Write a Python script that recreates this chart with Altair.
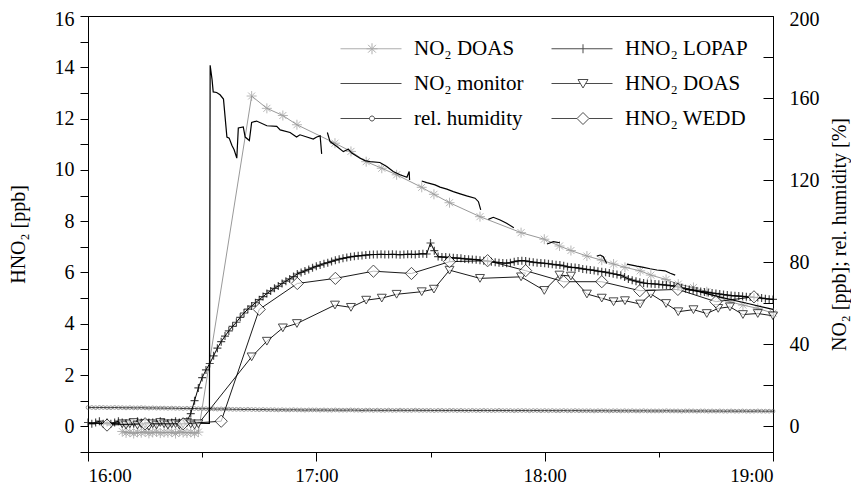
import altair as alt
import pandas as pd

FONT = "Liberation Serif, Times New Roman, Times, Nimbus Roman, DejaVu Serif, serif"

# ---------------- data (time = minutes after 16:00) ----------------
# NO2 DOAS [ppb] (right axis) and HNO2 DOAS [ppb] (left axis), same time stamps
doas_t = [9, 10, 11, 12, 13, 14, 15, 16, 17, 18, 19, 20, 21, 22, 23, 24, 25, 26, 27, 28, 29,
          43.0, 47.0, 51.2, 54.9, 64.9, 69.1, 73.1, 77.2, 81.1, 87.7, 90.9, 95.0, 103.0,
          113.8, 119.9, 123.9, 126.9, 131.1, 135.0, 138.1, 141.1, 145.1, 147.9, 151.9,
          155.1, 159.1, 162.6, 165.6, 168.7, 172.1, 176.0, 180.0]
no2_doas_v = [-2.5, -3.2, -2.8, -3.5, -2.9, -3.1, -2.6, -3.4, -3.0, -2.7, -3.3, -2.9, -3.1,
              -2.8, -3.5, -2.6, -3.0, -3.2, -2.9, -3.4, -2.8,
              161, 155, 151.5, 147, 138, 134, 129, 125.8, 122.6, 116.5, 113.1, 109, 102.2,
              94.4, 91.2, 87.9, 85.7, 83, 81, 79.1, 77.5, 75.8, 73.7, 71.6, 69.3, 67.7,
              65.6, 63.1, 60.7, 59.1, 57.5, 55.2]
hno2_doas_v = [0.1, 0.05, 0.1, 0.15, 0.05, 0.1, 0.1, 0.0, 0.1, 0.05, 0.15, 0.1, 0.05, 0.1,
               0.1, 0.05, 0.1, 0.15, 0.1, 0.05, 0.1,
               2.71, 3.32, 3.84, 4.01, 4.73, 4.64, 4.92, 5.0, 5.15, 5.25, 5.35, 6.09, 5.77,
               5.83, 5.3, 5.90, 5.86, 5.16, 5.0, 4.86, 4.90, 4.77, 5.16, 4.79, 4.47, 4.55,
               4.40, 4.60, 4.66, 4.36, 4.40, 4.31]

# NO2 monitor [ppb] (right axis), broken into segments
mon_t = [0, 10, 20, 31.9, 32.1, 32.6, 32.9, 33.8, 34.7, 35.6, 36.5, 37.1, 37.8, 38.4, 39.1,
         39.5, 40.8, 41.3, 42.4, 43.0, 44.3, 47.0, 49.6, 50.5, 53.1, 54.8, 55.7, 57.5, 59.2,
         60.1, 61.0, 61.4,
         62.9, 63.6, 65.4, 67.1, 68.4, 69.3, 71.5, 72.8, 74.1, 76.7, 78.5, 80.2, 82.0, 83.8,
         84.4, 84.5,
         87.7, 89.0, 91.2, 92.5, 94.3, 96.0, 97.8, 99.5, 101.7, 102.6, 103.2,
         105.2, 106.5, 108.3, 110.0, 111.9,
         120.6, 122.3, 124.0,
         133.7, 134.6, 135.4, 136.3,
         141.6, 144.2, 146.0, 147.7, 149.5, 151.6, 153.0, 154.3,
         156.9, 159.1, 166.1, 173.1, 180.0]
mon_v = [1.5, 1.2, 1.8, 1.5, 176, 169, 163, 162.7, 161.6, 159.5, 141, 140.5, 137, 134.8, 130.7,
         145.4, 145.9, 141, 139.3, 148.1, 148.8, 146.5, 146.2, 144.5, 143.2, 141, 142.1, 141,
         140, 141, 141.6, 132.8,
         143.2, 138.8, 136.4, 133.9, 135.1, 133.2, 130.7, 129.5, 129, 128.6, 126.6, 124.2,
         122.6, 121.4, 124.2, 120.1,
         119.6, 118.8, 117.7, 116.6, 115.6, 114.4, 113.3, 112.3, 111.2, 109.5, 105.5,
         100.9, 101.9, 100.6, 99, 96.8,
         88.9, 90, 89.5,
         83, 83.5, 82.7, 79.4,
         79.1, 78.1, 77.5, 76.8, 76.2, 75.8, 74.6, 73.7,
         66.7, 66.4, 63, 60, 57]
mon_seg = [1] * 32 + [2] * 16 + [3] * 11 + [4] * 5 + [5] * 3 + [6] * 4 + [7] * 8 + [8] * 5

# relative humidity [%] (right axis), one value per minute 16:00..19:00
rh_v = [9.2, 9.2, 9.1, 9.2, 9.2, 9.1, 9.1, 9.2, 9.1, 9.1,
        9.0, 9.1, 9.0, 9.0, 9.1, 9.0, 8.9, 9.0, 8.9, 8.9,
        8.9, 8.8, 8.9, 8.8, 8.8, 8.7, 8.8, 8.7, 8.7, 8.6,
        8.6, 8.6, 8.5, 8.5, 8.4, 8.5, 8.4, 8.4, 8.3, 8.3,
        8.3, 8.2, 8.3, 8.2, 8.2, 8.1, 8.2, 8.1, 8.1, 8.1,
        8.0, 8.1, 8.0, 8.0, 8.1, 8.0, 8.0, 7.9, 8.0, 8.0,
        8.0, 7.9, 8.0, 7.9, 7.9, 8.0, 7.9, 7.9, 7.9, 8.0,
        7.9, 7.9, 7.8, 7.9, 7.9, 7.8, 7.9, 7.8, 7.8, 7.9,
        7.8, 7.8, 7.9, 7.8, 7.8, 7.8, 7.9, 7.8, 7.8, 7.8,
        7.8, 7.7, 7.8, 7.8, 7.7, 7.8, 7.8, 7.7, 7.8, 7.7,
        7.7, 7.8, 7.7, 7.7, 7.8, 7.7, 7.7, 7.7, 7.8, 7.7,
        7.7, 7.7, 7.6, 7.7, 7.7, 7.7, 7.6, 7.7, 7.7, 7.6,
        7.7, 7.6, 7.7, 7.6, 7.6, 7.7, 7.6, 7.6, 7.7, 7.6,
        7.6, 7.6, 7.6, 7.5, 7.6, 7.6, 7.6, 7.5, 7.6, 7.6,
        7.5, 7.6, 7.5, 7.6, 7.5, 7.5, 7.6, 7.5, 7.5, 7.5,
        7.5, 7.5, 7.6, 7.5, 7.5, 7.5, 7.4, 7.5, 7.5, 7.5,
        7.4, 7.5, 7.5, 7.4, 7.5, 7.4, 7.5, 7.4, 7.4, 7.5,
        7.4, 7.4, 7.5, 7.4, 7.4, 7.4, 7.5, 7.4, 7.4, 7.4, 7.4]

# HNO2 LOPAP [ppb] (left axis), one value per minute 16:00..19:00
lopap_v = [0.15, 0.1, 0.15, 0.2, 0.1, 0.15, 0.1, 0.15, 0.2, 0.15,
           0.1, 0.15, 0.1, 0.2, 0.15, 0.1, 0.15, 0.15, 0.1, 0.2,
           0.15, 0.1, 0.15, 0.2, 0.15, 0.1, 0.2, 0.5, 1.0, 1.5,
           1.9, 2.2, 2.45, 2.75, 3.05, 3.3, 3.52, 3.72, 3.9, 4.06,
           4.25, 4.42, 4.57, 4.69, 4.82, 4.94, 5.06, 5.18, 5.28, 5.38,
           5.47, 5.57, 5.66, 5.75, 5.84, 5.94, 6.0, 6.06, 6.12, 6.18,
           6.24, 6.29, 6.34, 6.38, 6.43, 6.48, 6.52, 6.55, 6.58, 6.61,
           6.63, 6.65, 6.66, 6.68, 6.69, 6.70, 6.70, 6.71, 6.70, 6.70,
           6.71, 6.70, 6.69, 6.70, 6.71, 6.71, 6.70, 6.72, 6.73, 6.72,
           7.15, 6.85, 6.62, 6.6, 6.6, 6.58, 6.57, 6.56, 6.55, 6.53,
           6.52, 6.51, 6.50, 6.48, 6.46, 6.44, 6.42, 6.40, 6.38, 6.37,
           6.36, 6.38, 6.42, 6.45, 6.46, 6.45, 6.42, 6.40, 6.38, 6.37,
           6.36, 6.34, 6.32, 6.30, 6.29, 6.26, 6.22, 6.20, 6.19, 6.17,
           6.14, 6.12, 6.10, 6.08, 6.05, 6.03, 6.01, 5.98, 5.95, 5.92,
           5.89, 5.82, 5.75, 5.70, 5.66, 5.62, 5.59, 5.57, 5.56, 5.55,
           5.54, 5.52, 5.51, 5.49, 5.47, 5.44, 5.40, 5.37, 5.34, 5.31,
           5.28, 5.26, 5.24, 5.22, 5.20, 5.18, 5.16, 5.14, 5.12, 5.10,
           5.09, 5.08, 5.07, 5.05, 5.04, 5.03, 5.02, 5.00, 4.98, 4.96, 4.95]
minute_t = list(range(0, 181))

# HNO2 WEDD [ppb] (left axis)
wedd_t = [5, 15, 25, 35, 45, 55, 65, 75, 85, 95, 105, 115, 125, 135, 145, 155, 165, 175]
wedd_v = [0.05, 0.1, 0.1, 0.2, 4.56, 5.57, 5.77, 6.05, 5.96, 6.42, 6.46, 6.07, 5.64, 5.64,
          5.29, 5.34, 4.86, 5.05]

# legend (filled column by column)
series_names = ["NO₂ DOAS", "NO₂ monitor", "rel. humidity", "HNO₂ LOPAP", "HNO₂ DOAS", "HNO₂ WEDD"]
series_colors = ["#8c8c8c", "black", "black", "black", "black", "black"]

# ---------------- marker / legend symbol shapes ----------------
PLUS = "M-1,0H1M0,-1V1"
ASTER = "M0,-1V1M-1,0H1M-0.7,-0.7L0.7,0.7M-0.7,0.7L0.7,-0.7"
legend_paths = [
    "M0,0H12.2M6.3,-1.1V1.1M5.2,0H7.4M5.52,-0.78L7.08,0.78M5.52,0.78L7.08,-0.78",
    "M0,0H12.2",
    "M0,0H5.8M6.8,0H12.2M5.8,0A0.5,0.5 0 1,0 6.8,0A0.5,0.5 0 1,0 5.8,0",
    "M0,0H12.2M6.3,-0.9V0.9",
    "M0,0H5.77M6.83,0H12.2M5.3,-0.8L7.3,-0.8L6.3,0.9Z",
    "M0,0H5.1M7.5,0H12.2M5.1,0L6.3,-1.2L7.5,0L6.3,1.2Z",
]

# ---------------- frames ----------------
df_no2_doas = pd.DataFrame({"t": doas_t, "v": no2_doas_v})
df_hno2_doas = pd.DataFrame({"t": doas_t, "v": hno2_doas_v})
df_mon = pd.DataFrame({"t": mon_t, "v": mon_v, "seg": mon_seg})
df_rh = pd.DataFrame({"t": minute_t, "v": rh_v})
df_lopap = pd.DataFrame({"t": minute_t, "v": lopap_v})
df_wedd = pd.DataFrame({"t": wedd_t, "v": wedd_v})
df_leg = pd.DataFrame({"s": series_names, "t": [None] * 6, "v": [None] * 6})

# ---------------- encodings ----------------
X = alt.X(
    "t:Q",
    scale=alt.Scale(domain=[0, 180], nice=False, zero=False),
    axis=alt.Axis(
        values=[0, 30, 60, 90, 120, 150, 180],
        labelExpr="datum.value % 60 == 0 ? (16 + datum.value / 60) + ':00' : ''",
        tickSize={"condition": {"test": "datum.value % 60 == 0", "value": 9}, "value": 5},
        labelPadding=5,
        labelFontSize=19,
        title=None,
    ),
)
YL = alt.Y(
    "v:Q",
    scale=alt.Scale(domain=[-1, 16], nice=False, zero=False),
    axis=alt.Axis(
        orient="left",
        values=list(range(-1, 17)),
        labelExpr="datum.value >= 0 && datum.value % 2 == 0 ? datum.value : ''",
        labelOffset={"condition": {"test": "datum.value == 16", "value": 3}, "value": 0},
        tickSize=8,
        labelPadding=6,
        title="HNO₂ [ppb]",
        titlePadding=26,
    ),
)
YR = alt.Y(
    "v:Q",
    scale=alt.Scale(domain=[-12.5, 200], nice=False, zero=False),
    axis=alt.Axis(
        orient="right",
        values=list(range(0, 201, 20)),
        labelExpr="datum.value % 40 == 0 ? datum.value : ''",
        labelOffset={"condition": {"test": "datum.value == 200", "value": 3}, "value": 0},
        tickSize=alt.ExprRef(expr="-10"),
        labelPadding=26,
        title="NO₂ [ppb]; rel. humidity [%]",
        titleAngle=270,
        titlePadding=30,
    ),
)

# ---------------- right-axis layers ----------------
rh_line = alt.Chart(df_rh).mark_line(color="black", strokeWidth=0.8).encode(x=X, y=YR)
rh_pts = alt.Chart(df_rh).mark_point(shape="circle", size=14, filled=False, color="#555555",
                                     strokeWidth=0.8).encode(x=X, y=YR)
doas_line = alt.Chart(df_no2_doas).mark_line(color="#999999", strokeWidth=1).encode(x=X, y=YR)
doas_pts = alt.Chart(df_no2_doas).mark_point(shape=ASTER, size=100, filled=False,
                                             color="#999999", strokeWidth=1).encode(x=X, y=YR)
mon_line = alt.Chart(df_mon).mark_line(color="black", strokeWidth=1.2).encode(
    x=X, y=YR, detail="seg:N")
right = alt.layer(rh_line, rh_pts, doas_line, doas_pts, mon_line)

# ---------------- left-axis layers ----------------
lopap_line = alt.Chart(df_lopap).mark_line(color="black", strokeWidth=1).encode(x=X, y=YL)
lopap_pts = alt.Chart(df_lopap).mark_point(shape=PLUS, size=64, filled=False, color="black",
                                           strokeWidth=1.2).encode(x=X, y=YL)
hd_line = alt.Chart(df_hno2_doas).mark_line(color="black", strokeWidth=0.9).encode(x=X, y=YL)
hd_pts = alt.Chart(df_hno2_doas).mark_point(shape="triangle-down", size=80, filled=True,
                                            fill="white", stroke="black",
                                            strokeWidth=1).encode(x=X, y=YL)
wedd_line = alt.Chart(df_wedd).mark_line(color="black", strokeWidth=0.9).encode(x=X, y=YL)
wedd_pts = alt.Chart(df_wedd).mark_point(shape="diamond", size=150, filled=True, fill="white",
                                         stroke="black", strokeWidth=1).encode(x=X, y=YL)

leg = alt.Legend(
    title=None, orient="none", legendX=242, legendY=22, columns=2,
    symbolSize=100, labelOffset=63, columnPadding=17, rowPadding=13,
    labelFont=FONT, labelFontSize=21, labelColor="black", labelLimit=0,
    symbolStrokeWidth=1, padding=0,
)
legend_layer = alt.Chart(df_leg).mark_point(filled=False, size=100, strokeWidth=1).encode(
    x=X, y=YL,
    shape=alt.Shape("s:N", scale=alt.Scale(domain=series_names, range=legend_paths), legend=leg),
    color=alt.Color("s:N", scale=alt.Scale(domain=series_names, range=series_colors), legend=leg),
)
left = alt.layer(lopap_line, lopap_pts, hd_line, hd_pts, wedd_line, wedd_pts, legend_layer)

chart = (
    alt.layer(right, left)
    .resolve_scale(y="independent")
    .properties(
        width=685, height=436,
        padding={"left": 80, "top": 8, "right": 78, "bottom": 34},
        autosize=alt.AutoSizeParams(type="none"),
        background="white",
    )
    .configure(font=FONT)
    .configure_view(stroke="black", strokeWidth=1)
    .configure_axis(
        grid=False,
        labelFont=FONT, labelFontSize=20, labelColor="black",
        titleFont=FONT, titleFontSize=20, titleFontWeight="normal", titleColor="black",
        domainColor="black", tickColor="black", domainWidth=1, tickWidth=1,
    )
)

chart.save("out.html", embed_options={"renderer": "svg", "actions": False})
